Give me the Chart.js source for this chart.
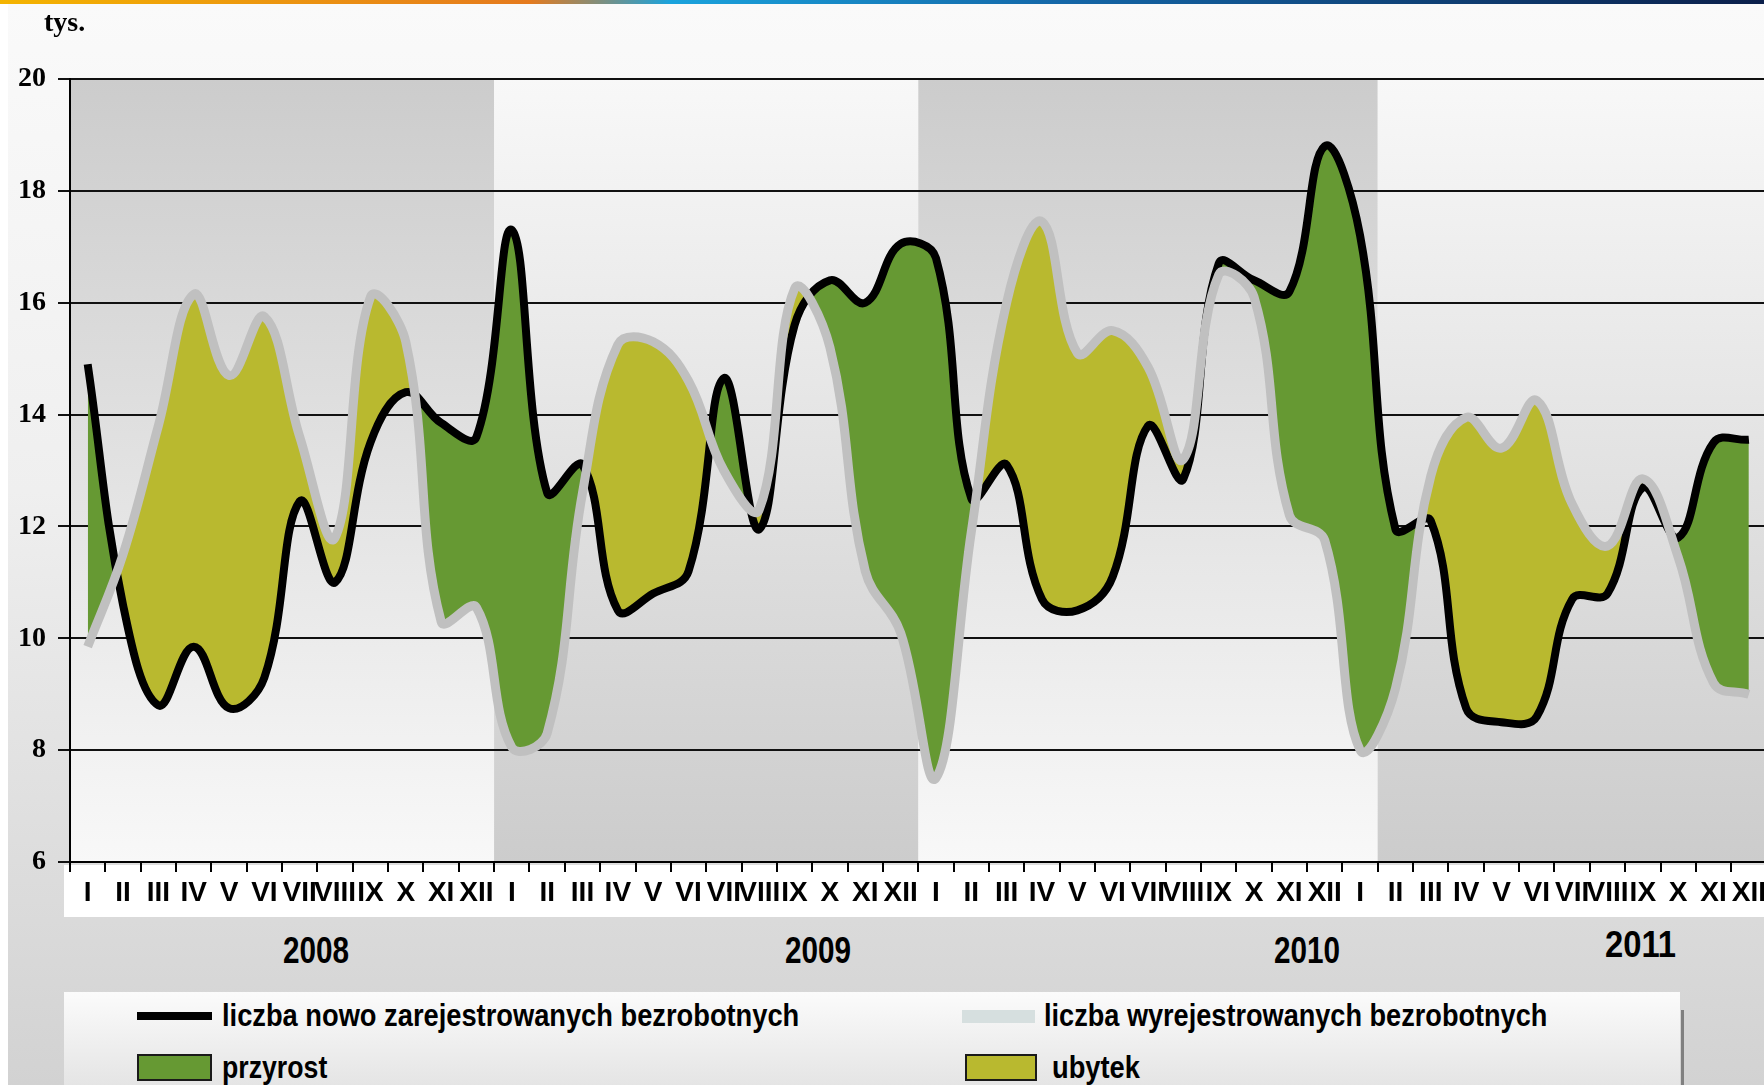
<!DOCTYPE html>
<html lang="pl">
<head>
    <meta charset="UTF-8">
    <title>Bezrobotni zarejestrowani i wyrejestrowani</title>
    <style>
        body {
            margin: 0;
            width: 1764px;
            height: 1085px;
            overflow: hidden;
            background: #fff;
            position: relative;
            font-family: 'Liberation Sans', Arial, sans-serif;
            font-weight: bold;
            color: #000;
        }
        #strip {
            position: absolute; left: 0; top: 0; width: 100%; height: 4px;
            background: linear-gradient(to right, #f4b400, #e57a1e 30%, #1aa3dd 38%, #1467a8 60%, #0b1f4a 100%);
        }
        #panel {
            position: absolute; left: 8px; top: 4px; right: 0; bottom: 0;
            background: linear-gradient(#fafafa 0%, #efefef 45%, #d2d2d2 100%);
        }
        #chartBox { position: absolute; left: 0; top: 0; }
        .txt { position: absolute; white-space: nowrap; line-height: 1; transform-origin: 0 0; }
        #unit { left: 44px; top: 8px; font-family: 'Liberation Serif', serif; font-size: 28px; }
        .year { font-size: 36px; }
        #legend {
            position: absolute; left: 64px; top: 992px; width: 1616px; height: 100px;
            background: linear-gradient(#fbfbfb, #e3e3e3);
        }
        #legendShadow { position: absolute; left: 1681px; top: 1010px; width: 3px; height: 80px; background: #808080; }
        .sw { position: absolute; }
        .lt { font-size: 31px; }
    </style>
</head>
<body>
    <div id="strip"></div>
    <div id="panel"></div>
    <div id="chartBox"><canvas id="chart" width="1770" height="917"></canvas></div>
    <div class="txt" id="unit">tys.</div>
    <div class="txt year" data-x="283" data-w="66" style="top:933px;">2008</div>
    <div class="txt year" data-x="785" data-w="66" style="top:933px;">2009</div>
    <div class="txt year" data-x="1274" data-w="66" style="top:933px;">2010</div>
    <div class="txt year" data-x="1605" data-w="71" style="top:927px;">2011</div>
    <div id="legendShadow"></div>
    <div id="legend">
        <div class="sw" style="left:73px; top:20px; width:75px; height:8px; background:#000;"></div>
        <div class="txt lt" data-x="158" data-w="577" style="top:8px;">liczba nowo zarejestrowanych bezrobotnych</div>
        <div class="sw" style="left:898px; top:18px; width:73px; height:13px; background:#d6dfdf;"></div>
        <div class="txt lt" data-x="980" data-w="503" style="top:8px;">liczba wyrejestrowanych bezrobotnych</div>
        <div class="sw" style="left:73px; top:62px; width:71px; height:23px; background:#669933; border:2px solid #1a1a1a;"></div>
        <div class="txt lt" data-x="158" data-w="105" style="top:60px;">przyrost</div>
        <div class="sw" style="left:901px; top:62px; width:68px; height:23px; background:#b9b92f; border:2px solid #1a1a1a;"></div>
        <div class="txt lt" data-x="988" data-w="88" style="top:60px;">ubytek</div>
    </div>

    <script src="https://cdn.jsdelivr.net/npm/chart.js"></script>
    <script>
        // miesiące (rzymskie) i lata
        const months = ['I', 'II', 'III', 'IV', 'V', 'VI', 'VII', 'VIII', 'IX', 'X', 'XI', 'XII'];
        const years = ['2008', '2009', '2010', '2011'];

        // tys. osób, I 2008 - XII 2011
        const nowoZarejestrowani = [
            14.9, 10.6, 8.8, 9.85, 8.75, 9.3, 12.45, 11.0, 13.5, 14.4, 13.85, 13.6,
            17.3, 12.6, 13.1, 10.5, 10.8, 11.2, 14.65, 11.95, 15.6, 16.4, 16.0, 17.05,
            16.8, 12.5, 13.1, 10.7, 10.5, 11.1, 13.8, 12.85, 16.7, 16.4, 16.2, 18.8,
            17.2, 11.95, 12.1, 8.75, 8.5, 8.6, 10.7, 10.8, 12.7, 11.8, 13.5, 13.55
        ];
        const wyrejestrowani = [
            9.85, 11.5, 13.8, 16.15, 14.7, 15.75, 13.6, 11.8, 16.1, 15.3, 10.3, 10.55,
            8.05, 8.3, 12.6, 15.25, 15.3, 14.6, 13.0, 12.3, 16.25, 15.2, 11.2, 10.1,
            7.5, 11.9, 16.0, 17.45, 15.1, 15.5, 14.85, 13.2, 16.5, 16.1, 12.2, 11.75,
            8.0, 9.1, 12.9, 13.95, 13.4, 14.25, 12.4, 11.65, 12.85, 11.45, 9.2, 9.0
        ];

        // pasy tła: indeksy miesięcy (od, do), ciemny = szary u góry
        const bandFrom = [0, 12, 24, 37];
        const bandTo = [12, 24, 37, 48];
        const bandDark = [true, false, true, false];

        const labels = years.flatMap(() => months);

        // zwężony napis jak w oryginale
        document.querySelectorAll('[data-w]').forEach(el => {
            el.style.left = el.dataset.x + 'px';
            el.style.transform = 'scaleX(' + (el.dataset.w / el.offsetWidth) + ')';
        });

        const backgroundBands = {
            id: 'backgroundBands',
            beforeDraw(chart) {
                const { ctx, chartArea: a, scales: { x } } = chart;
                ctx.save();
                for (let i = 0; i < bandFrom.length; i++) {
                    const x0 = x.getPixelForValue(bandFrom[i] - 0.5);
                    const x1 = x.getPixelForValue(bandTo[i] - 0.5);
                    const g = ctx.createLinearGradient(0, a.top, 0, a.bottom);
                    g.addColorStop(0, bandDark[i] ? '#cccccc' : '#f8f8f8');
                    g.addColorStop(1, bandDark[i] ? '#f8f8f8' : '#cccccc');
                    ctx.fillStyle = g;
                    ctx.fillRect(x0, a.top, x1 - x0, a.bottom - a.top);
                }
                // białe pole pod etykietami miesięcy
                ctx.fillStyle = '#ffffff';
                ctx.fillRect(64, a.bottom + 3, chart.width, 52);
                ctx.restore();
            }
        };

        new Chart(document.getElementById('chart'), {
            type: 'line',
            data: {
                labels: labels,
                datasets: [{
                    label: 'liczba wyrejestrowanych bezrobotnych',
                    data: wyrejestrowani,
                    borderColor: '#c0c0c0',
                    borderWidth: 9,
                    pointRadius: 0,
                    tension: 0.4,
                    fill: false
                }, {
                    label: 'liczba nowo zarejestrowanych bezrobotnych',
                    data: nowoZarejestrowani,
                    borderColor: '#000000',
                    borderWidth: 8,
                    pointRadius: 0,
                    tension: 0.4,
                    fill: { target: 0, above: '#669933', below: '#b9b92f' }
                }]
            },
            options: {
                responsive: false,
                animation: false,
                layout: { padding: { top: 79, left: 0, right: 0, bottom: 0 } },
                plugins: { legend: { display: false }, tooltip: { enabled: false } },
                scales: {
                    x: {
                        offset: true,
                        grid: { offset: true, drawOnChartArea: false, color: '#000', lineWidth: 2, tickLength: 10 },
                        border: { color: '#000', width: 2 },
                        ticks: {
                            autoSkip: false, maxRotation: 0, minRotation: 0, padding: 4, color: '#000',
                            font: { family: "'Liberation Sans', Arial, sans-serif", size: 28, weight: 'bold' }
                        },
                        afterFit(s) { s.height = 55; }
                    },
                    y: {
                        min: 6, max: 20,
                        ticks: {
                            stepSize: 2, padding: 12, color: '#000',
                            font: { family: "'Liberation Serif', serif", size: 28, weight: 'bold' }
                        },
                        grid: { color: '#111', lineWidth: 2, tickLength: 12 },
                        border: { color: '#000', width: 2 },
                        afterFit(s) { s.width = 70; }
                    }
                }
            },
            plugins: [backgroundBands]
        });
    </script>
</body>
</html>
